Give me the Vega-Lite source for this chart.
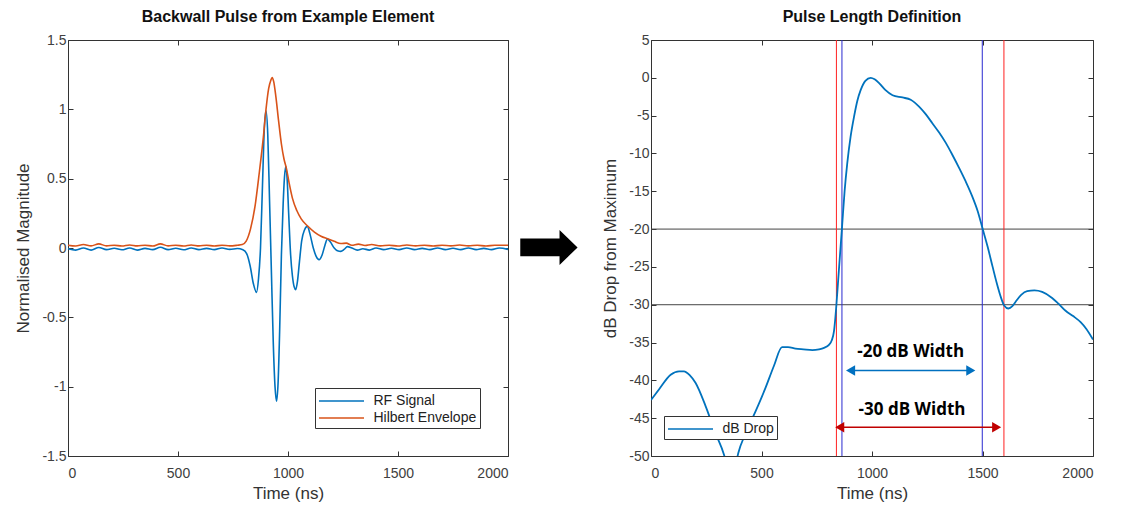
{
  "$schema": "https://vega.github.io/schema/vega-lite/v6.json",
  "background": "white",
  "padding": {"left": 14, "top": 8, "right": 5, "bottom": 5},
  "spacing": 22,
  "resolve": {"scale": {"color": "independent", "shape": "independent"}, "legend": {"color": "independent"}},
  "config": {
    "font": "Liberation Sans",
    "view": {"stroke": "#333333", "strokeWidth": 1},
    "axis": {"labelFont": "Liberation Sans", "labelFontSize": 14, "labelColor": "#404040", "titleFont": "Liberation Sans", "titleFontSize": 17, "titleFontWeight": "normal", "titleColor": "#333333", "tickColor": "#333333", "tickSize": -5, "domain": false, "grid": false},
    "axisX": {"labelPadding": 15, "titlePadding": 5},
    "axisY": {"labelPadding": 7, "titlePadding": 9},
    "title": {"font": "Liberation Sans", "fontSize": 16, "fontWeight": "bold", "color": "#111111", "anchor": "middle", "offset": 8},
    "legend": {"orient": "none", "title": null, "strokeColor": "#333333", "fillColor": "white", "padding": 3, "symbolType": "M-2.5,0L2.5,0", "symbolSize": 324, "symbolOffset": 13.5, "symbolStrokeWidth": 1.6, "labelFont": "Liberation Sans", "labelFontSize": 14, "labelColor": "#222222", "labelOffset": 22, "rowPadding": 0}
  },
  "datasets": {
    "rf": [
      {"t":0,"v":-0.005},{"t":35,"v":-0.015},{"t":70,"v":0.0},{"t":105,"v":-0.015},{"t":140,"v":0.004},{"t":175,"v":-0.012},{"t":210,"v":-0.002},{"t":245,"v":-0.013},{"t":280,"v":0.0},{"t":315,"v":-0.015},{"t":350,"v":-0.003},{"t":385,"v":-0.012},{"t":420,"v":0.005},{"t":455,"v":-0.012},{"t":490,"v":-0.002},{"t":525,"v":-0.013},{"t":560,"v":0.0},{"t":595,"v":-0.012},{"t":630,"v":-0.003},{"t":665,"v":-0.012},{"t":700,"v":0.0},{"t":735,"v":-0.01},{"t":770,"v":-0.004},{"t":795,"v":-0.012},{"t":812,"v":-0.04},{"t":828,"v":-0.13},{"t":843,"v":-0.26},{"t":857,"v":-0.32},{"t":866,"v":-0.22},{"t":875,"v":0.0},{"t":884,"v":0.45},{"t":892,"v":0.85},{"t":900,"v":0.99},{"t":908,"v":0.82},{"t":916,"v":0.35},{"t":925,"v":-0.2},{"t":933,"v":-0.68},{"t":941,"v":-1.0},{"t":948,"v":-1.105},{"t":955,"v":-0.97},{"t":962,"v":-0.6},{"t":970,"v":-0.05},{"t":978,"v":0.32},{"t":984,"v":0.51},{"t":990,"v":0.59},{"t":996,"v":0.5},{"t":1003,"v":0.25},{"t":1012,"v":-0.05},{"t":1020,"v":-0.2},{"t":1028,"v":-0.28},{"t":1035,"v":-0.3},{"t":1043,"v":-0.24},{"t":1052,"v":-0.1},{"t":1062,"v":0.05},{"t":1075,"v":0.13},{"t":1088,"v":0.156},{"t":1100,"v":0.1},{"t":1115,"v":0.0},{"t":1128,"v":-0.06},{"t":1141,"v":-0.084},{"t":1155,"v":-0.05},{"t":1168,"v":0.02},{"t":1179,"v":0.065},{"t":1192,"v":0.045},{"t":1210,"v":0.0},{"t":1225,"v":-0.02},{"t":1240,"v":-0.024},{"t":1255,"v":-0.01},{"t":1270,"v":0.01},{"t":1290,"v":0.0},{"t":1315,"v":-0.015},{"t":1340,"v":-0.005},{"t":1370,"v":-0.015},{"t":1400,"v":0.0},{"t":1435,"v":-0.012},{"t":1470,"v":-0.002},{"t":1505,"v":-0.012},{"t":1540,"v":0.0},{"t":1575,"v":-0.012},{"t":1610,"v":-0.003},{"t":1645,"v":-0.012},{"t":1680,"v":0.0},{"t":1715,"v":-0.012},{"t":1750,"v":-0.002},{"t":1785,"v":-0.012},{"t":1820,"v":0.0},{"t":1855,"v":-0.012},{"t":1890,"v":-0.003},{"t":1925,"v":-0.012},{"t":1960,"v":0.0},{"t":2000,"v":-0.01}
    ],
    "env": [
      {"t":0,"v":0.02},{"t":35,"v":0.014},{"t":70,"v":0.025},{"t":105,"v":0.015},{"t":140,"v":0.03},{"t":175,"v":0.015},{"t":210,"v":0.02},{"t":245,"v":0.014},{"t":280,"v":0.022},{"t":315,"v":0.015},{"t":350,"v":0.02},{"t":385,"v":0.014},{"t":420,"v":0.03},{"t":455,"v":0.015},{"t":490,"v":0.02},{"t":525,"v":0.014},{"t":560,"v":0.022},{"t":595,"v":0.015},{"t":630,"v":0.02},{"t":665,"v":0.014},{"t":700,"v":0.02},{"t":735,"v":0.015},{"t":770,"v":0.02},{"t":792,"v":0.025},{"t":810,"v":0.05},{"t":830,"v":0.14},{"t":850,"v":0.3},{"t":870,"v":0.55},{"t":888,"v":0.8},{"t":900,"v":1.0},{"t":912,"v":1.15},{"t":922,"v":1.21},{"t":928,"v":1.23},{"t":935,"v":1.2},{"t":945,"v":1.09},{"t":957,"v":0.92},{"t":970,"v":0.75},{"t":982,"v":0.64},{"t":992,"v":0.58},{"t":1005,"v":0.47},{"t":1020,"v":0.36},{"t":1040,"v":0.27},{"t":1060,"v":0.21},{"t":1088,"v":0.16},{"t":1120,"v":0.115},{"t":1150,"v":0.085},{"t":1180,"v":0.066},{"t":1210,"v":0.048},{"t":1240,"v":0.032},{"t":1265,"v":0.035},{"t":1290,"v":0.02},{"t":1320,"v":0.028},{"t":1350,"v":0.018},{"t":1380,"v":0.025},{"t":1420,"v":0.015},{"t":1460,"v":0.02},{"t":1500,"v":0.014},{"t":1540,"v":0.022},{"t":1580,"v":0.015},{"t":1620,"v":0.02},{"t":1660,"v":0.014},{"t":1700,"v":0.02},{"t":1740,"v":0.015},{"t":1780,"v":0.022},{"t":1820,"v":0.015},{"t":1860,"v":0.02},{"t":1900,"v":0.014},{"t":1940,"v":0.02},{"t":2000,"v":0.02}
    ],
    "db": [
      {"t":0,"v":-42.6},{"t":36,"v":-41.2},{"t":89,"v":-39.25},{"t":127,"v":-38.8},{"t":149,"v":-38.8},{"t":175,"v":-39.3},{"t":202,"v":-40.35},{"t":247,"v":-43.4},{"t":292,"v":-47.0},{"t":330,"v":-49.8},{"t":350,"v":-52},{"t":365,"v":-52.5},{"t":380,"v":-51.5},{"t":395,"v":-49.6},{"t":428,"v":-47.0},{"t":473,"v":-44.1},{"t":518,"v":-41.0},{"t":556,"v":-38.1},{"t":593,"v":-35.6},{"t":620,"v":-35.6},{"t":654,"v":-35.8},{"t":690,"v":-35.9},{"t":730,"v":-36.0},{"t":760,"v":-35.9},{"t":783,"v":-35.7},{"t":805,"v":-35.3},{"t":818,"v":-34.7},{"t":828,"v":-33.5},{"t":834,"v":-31.8},{"t":839,"v":-30.0},{"t":850,"v":-25.5},{"t":864,"v":-19.9},{"t":876,"v":-15.0},{"t":888,"v":-11.3},{"t":903,"v":-7.8},{"t":919,"v":-5.1},{"t":934,"v":-3.0},{"t":949,"v":-1.6},{"t":970,"v":-0.4},{"t":994,"v":0.0},{"t":1012,"v":-0.2},{"t":1032,"v":-0.7},{"t":1060,"v":-1.6},{"t":1093,"v":-2.3},{"t":1138,"v":-2.6},{"t":1175,"v":-2.9},{"t":1213,"v":-3.8},{"t":1243,"v":-4.8},{"t":1273,"v":-6.0},{"t":1303,"v":-7.2},{"t":1334,"v":-8.6},{"t":1364,"v":-10.2},{"t":1394,"v":-11.9},{"t":1424,"v":-13.7},{"t":1454,"v":-15.7},{"t":1478,"v":-17.6},{"t":1500,"v":-19.9},{"t":1523,"v":-22.3},{"t":1545,"v":-24.9},{"t":1565,"v":-27.2},{"t":1583,"v":-29.0},{"t":1598,"v":-30.1},{"t":1617,"v":-30.5},{"t":1635,"v":-30.2},{"t":1650,"v":-29.6},{"t":1675,"v":-28.7},{"t":1702,"v":-28.2},{"t":1735,"v":-28.1},{"t":1770,"v":-28.3},{"t":1815,"v":-29.1},{"t":1845,"v":-29.9},{"t":1876,"v":-30.8},{"t":1910,"v":-31.5},{"t":1944,"v":-32.3},{"t":1970,"v":-33.2},{"t":2000,"v":-34.6}
    ],
    "hlines": [{"v": -20}, {"v": -30}],
    "vlines": [{"t": 839, "level": -30}, {"t": 864, "level": -20}, {"t": 1499, "level": -20}, {"t": 1597, "level": -30}],
    "arrows": [{"t1": 905, "t2": 1445, "v": -38.7, "level": -20}, {"t1": 856, "t2": 1562, "v": -46.2, "level": -30}],
    "heads": [
      {"t": 903, "v": -38.7, "side": "left", "level": -20},
      {"t": 1447, "v": -38.7, "side": "right", "level": -20},
      {"t": 854, "v": -46.2, "side": "left", "level": -30},
      {"t": 1564, "v": -46.2, "side": "right", "level": -30}
    ],
    "labels": [{"t": 1175, "v": -36.3, "text": "-20 dB Width"}, {"t": 1181, "v": -43.9, "text": "-30 dB Width"}],
    "bigarrow": [{"t": 2186, "v": 0.004}]
  },
  "hconcat": [
    {
      "width": 440,
      "height": 416,
      "title": "Backwall Pulse from Example Element",
      "layer": [
        {
          "data": {"name": "rf"},
          "mark": {"type": "line", "interpolate": "monotone", "strokeWidth": 1.6},
          "encoding": {
            "x": {"field": "t", "type": "quantitative", "scale": {"domain": [0, 2000], "nice": false, "zero": false}, "axis": {"title": "Time (ns)", "values": [0, 500, 1000, 1500, 2000], "labelExpr": "'' + datum.value"}},
            "y": {"field": "v", "type": "quantitative", "scale": {"domain": [-1.5, 1.5], "nice": false}, "axis": {"title": "Normalised Magnitude", "values": [-1.5, -1, -0.5, 0, 0.5, 1, 1.5], "labelExpr": "'' + datum.value"}},
            "color": {"datum": "RF Signal", "scale": {"domain": ["RF Signal", "Hilbert Envelope"], "range": ["#0072BD", "#D95319"]}, "legend": {"legendX": 247, "legendY": 348}}
          }
        },
        {
          "data": {"name": "env"},
          "mark": {"type": "line", "interpolate": "monotone", "strokeWidth": 1.6},
          "encoding": {
            "x": {"field": "t", "type": "quantitative", "axis": {"orient": "top", "labels": false, "title": null, "values": [0, 500, 1000, 1500, 2000]}},
            "y": {"field": "v", "type": "quantitative", "axis": {"orient": "right", "labels": false, "title": null, "values": [-1.5, -1, -0.5, 0, 0.5, 1, 1.5]}},
            "color": {"datum": "Hilbert Envelope"}
          }
        },
        {
          "data": {"name": "bigarrow"},
          "mark": {"type": "point", "shape": "M-1,-0.31L0.37,-0.31L0.37,-0.61L1,0L0.37,0.61L0.37,0.31L-1,0.31Z", "size": 3283, "filled": true, "color": "#000000", "opacity": 1, "strokeWidth": 0},
          "encoding": {
            "x": {"field": "t", "type": "quantitative", "axis": null},
            "y": {"field": "v", "type": "quantitative", "axis": null}
          }
        }
      ],
      "resolve": {"axis": {"x": "independent", "y": "independent"}}
    },
    {
      "width": 442,
      "height": 416,
      "title": "Pulse Length Definition",
      "layer": [
        {
          "data": {"name": "hlines"},
          "mark": {"type": "rule", "color": "#444444", "strokeWidth": 1},
          "encoding": {
            "y": {"field": "v", "type": "quantitative", "axis": {"orient": "right", "labels": false, "title": null, "values": [-50, -45, -40, -35, -30, -25, -20, -15, -10, -5, 0, 5]}}
          }
        },
        {
          "data": {"name": "vlines"},
          "transform": [{"filter": "datum.level == -30"}],
          "mark": {"type": "rule", "color": "#ff2020", "strokeWidth": 1},
          "encoding": {
            "x": {"field": "t", "type": "quantitative", "axis": {"orient": "top", "labels": false, "title": null, "values": [0, 500, 1000, 1500, 2000]}}
          }
        },
        {
          "data": {"name": "vlines"},
          "transform": [{"filter": "datum.level == -20"}],
          "mark": {"type": "rule", "color": "#2a2ad0", "strokeWidth": 1},
          "encoding": {
            "x": {"field": "t", "type": "quantitative", "axis": null}
          }
        },
        {
          "data": {"name": "db"},
          "mark": {"type": "line", "interpolate": "monotone", "strokeWidth": 1.8, "clip": true},
          "encoding": {
            "x": {"field": "t", "type": "quantitative", "scale": {"domain": [0, 2000], "nice": false, "zero": false}, "axis": {"title": "Time (ns)", "values": [0, 500, 1000, 1500, 2000], "labelExpr": "'' + datum.value"}},
            "y": {"field": "v", "type": "quantitative", "scale": {"domain": [-50, 5], "nice": false, "zero": false}, "axis": {"title": "dB Drop from Maximum", "values": [-50, -45, -40, -35, -30, -25, -20, -15, -10, -5, 0, 5], "labelExpr": "'' + datum.value"}},
            "color": {"datum": "dB Drop", "scale": {"domain": ["dB Drop"], "range": ["#0072BD"]}, "legend": {"legendX": 13, "legendY": 376}}
          }
        },
        {
          "data": {"name": "arrows"},
          "transform": [{"filter": "datum.level == -20"}],
          "mark": {"type": "rule", "color": "#0070C0", "strokeWidth": 1.5},
          "encoding": {
            "x": {"field": "t1", "type": "quantitative", "axis": null},
            "x2": {"field": "t2"},
            "y": {"field": "v", "type": "quantitative", "axis": null}
          }
        },
        {
          "data": {"name": "arrows"},
          "transform": [{"filter": "datum.level == -30"}],
          "mark": {"type": "rule", "color": "#C00000", "strokeWidth": 1.5},
          "encoding": {
            "x": {"field": "t1", "type": "quantitative", "axis": null},
            "x2": {"field": "t2"},
            "y": {"field": "v", "type": "quantitative", "axis": null}
          }
        },
        {
          "data": {"name": "heads"},
          "transform": [{"filter": "datum.level == -20"}],
          "mark": {"type": "point", "filled": true, "size": 110, "color": "#0070C0", "opacity": 1},
          "encoding": {
            "x": {"field": "t", "type": "quantitative", "axis": null},
            "y": {"field": "v", "type": "quantitative", "axis": null},
            "shape": {"field": "side", "type": "nominal", "scale": {"domain": ["left", "right"], "range": ["triangle-left", "triangle-right"]}, "legend": null}
          }
        },
        {
          "data": {"name": "heads"},
          "transform": [{"filter": "datum.level == -30"}],
          "mark": {"type": "point", "filled": true, "size": 110, "color": "#C00000", "opacity": 1},
          "encoding": {
            "x": {"field": "t", "type": "quantitative", "axis": null},
            "y": {"field": "v", "type": "quantitative", "axis": null},
            "shape": {"field": "side", "type": "nominal", "legend": null}
          }
        },
        {
          "data": {"name": "labels"},
          "mark": {"type": "text", "font": "Open Sans", "fontWeight": "bold", "fontSize": 17, "color": "#000000", "align": "center", "baseline": "middle"},
          "encoding": {
            "x": {"field": "t", "type": "quantitative", "axis": null},
            "y": {"field": "v", "type": "quantitative", "axis": null},
            "text": {"field": "text", "type": "nominal"}
          }
        }
      ],
      "resolve": {"axis": {"x": "independent", "y": "independent"}}
    }
  ]
}
